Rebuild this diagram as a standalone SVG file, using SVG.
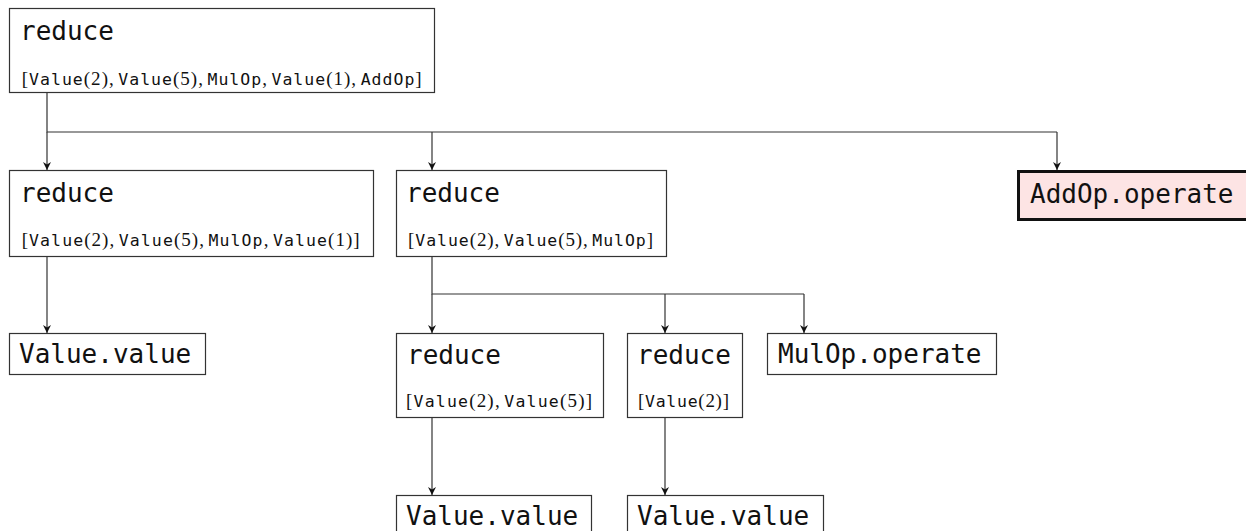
<svg xmlns="http://www.w3.org/2000/svg" width="1246" height="531" viewBox="0 0 1246 531">
<style>
.box{fill:#fff;stroke:#333;stroke-width:1.2}
.hl{fill:#fde4e4;stroke:#111;stroke-width:3}
.t{font-family:"DejaVu Sans Mono",monospace;font-size:26px;fill:#111}
.sub{font-size:19px;fill:#111}
.m{font-family:"DejaVu Sans Mono",monospace;font-size:16.5px}
.s{font-family:"Liberation Serif",serif;font-size:19px}
.c{fill:none;stroke:#333;stroke-width:1.2}
.a{marker-end:url(#ah)}
</style>
<defs>
<marker id="ah" markerUnits="userSpaceOnUse" markerWidth="10" markerHeight="10" refX="8" refY="4" orient="auto">
<path d="M0,0 L8,4 L0,8 L2.5,4 z" fill="#111"/>
</marker>
</defs>
<g id="connectors">
<path class="c" d="M47,92 V132 H1057"/>
<path class="c a" d="M47,132 V170"/>
<path class="c a" d="M432,132 V170"/>
<path class="c a" d="M1057,132 V170"/>
<path class="c a" d="M47,257 V333"/>
<path class="c" d="M432,257 V294 H804"/>
<path class="c a" d="M432,294 V333"/>
<path class="c a" d="M665,294 V333"/>
<path class="c a" d="M804,294 V333"/>
<path class="c a" d="M432,418 V495"/>
<path class="c a" d="M665,418 V495"/>
</g>
<g id="n0">
<rect class="box" x="9.5" y="8.5" width="425" height="84"/>
<text class="t" x="20" y="40">reduce</text>
<text class="sub" x="21.7" y="85" textLength="400" lengthAdjust="spacing"><tspan class="s">[</tspan><tspan class="m">Value</tspan><tspan class="s">(2),</tspan><tspan class="m" dx="3.5">Value</tspan><tspan class="s">(5),</tspan><tspan class="m" dx="3.5">MulOp</tspan><tspan class="s">,</tspan><tspan class="m" dx="3.5">Value</tspan><tspan class="s">(1),</tspan><tspan class="m" dx="3.5">AddOp</tspan><tspan class="s">]</tspan></text>
</g>
<g id="n1">
<rect class="box" x="9.5" y="170.5" width="364" height="86"/>
<text class="t" x="20" y="202">reduce</text>
<text class="sub" x="21.7" y="246" textLength="338" lengthAdjust="spacing"><tspan class="s">[</tspan><tspan class="m">Value</tspan><tspan class="s">(2),</tspan><tspan class="m" dx="3.5">Value</tspan><tspan class="s">(5),</tspan><tspan class="m" dx="3.5">MulOp</tspan><tspan class="s">,</tspan><tspan class="m" dx="3.5">Value</tspan><tspan class="s">(1)]</tspan></text>
</g>
<g id="n2">
<rect class="box" x="396.5" y="170.5" width="270" height="86"/>
<text class="t" x="406" y="202">reduce</text>
<text class="sub" x="408" y="246" textLength="245" lengthAdjust="spacing"><tspan class="s">[</tspan><tspan class="m">Value</tspan><tspan class="s">(2),</tspan><tspan class="m" dx="3.5">Value</tspan><tspan class="s">(5),</tspan><tspan class="m" dx="3.5">MulOp</tspan><tspan class="s">]</tspan></text>
</g>
<g id="n3">
<rect class="hl" x="1018.5" y="171.5" width="240" height="48"/>
<text class="t" x="1030" y="203">AddOp.operate</text>
</g>
<g id="n4">
<rect class="box" x="9.5" y="333.5" width="196" height="41"/>
<text class="t" x="19" y="363">Value.value</text>
</g>
<g id="n5">
<rect class="box" x="396.5" y="333.5" width="207" height="84"/>
<text class="t" x="407" y="364">reduce</text>
<text class="sub" x="406" y="407" textLength="186" lengthAdjust="spacing"><tspan class="s">[</tspan><tspan class="m">Value</tspan><tspan class="s">(2),</tspan><tspan class="m" dx="3.5">Value</tspan><tspan class="s">(5)]</tspan></text>
</g>
<g id="n6">
<rect class="box" x="627.5" y="333.5" width="115" height="84"/>
<text class="t" x="637" y="364">reduce</text>
<text class="sub" x="638" y="407" textLength="91" lengthAdjust="spacing"><tspan class="s">[</tspan><tspan class="m">Value</tspan><tspan class="s">(2)]</tspan></text>
</g>
<g id="n7">
<rect class="box" x="767.5" y="333.5" width="229" height="41"/>
<text class="t" x="778" y="363">MulOp.operate</text>
</g>
<g id="n8">
<rect class="box" x="396.5" y="495.5" width="195" height="41"/>
<text class="t" x="406" y="525">Value.value</text>
</g>
<g id="n9">
<rect class="box" x="627.5" y="495.5" width="196" height="41"/>
<text class="t" x="637" y="525">Value.value</text>
</g>
</svg>
